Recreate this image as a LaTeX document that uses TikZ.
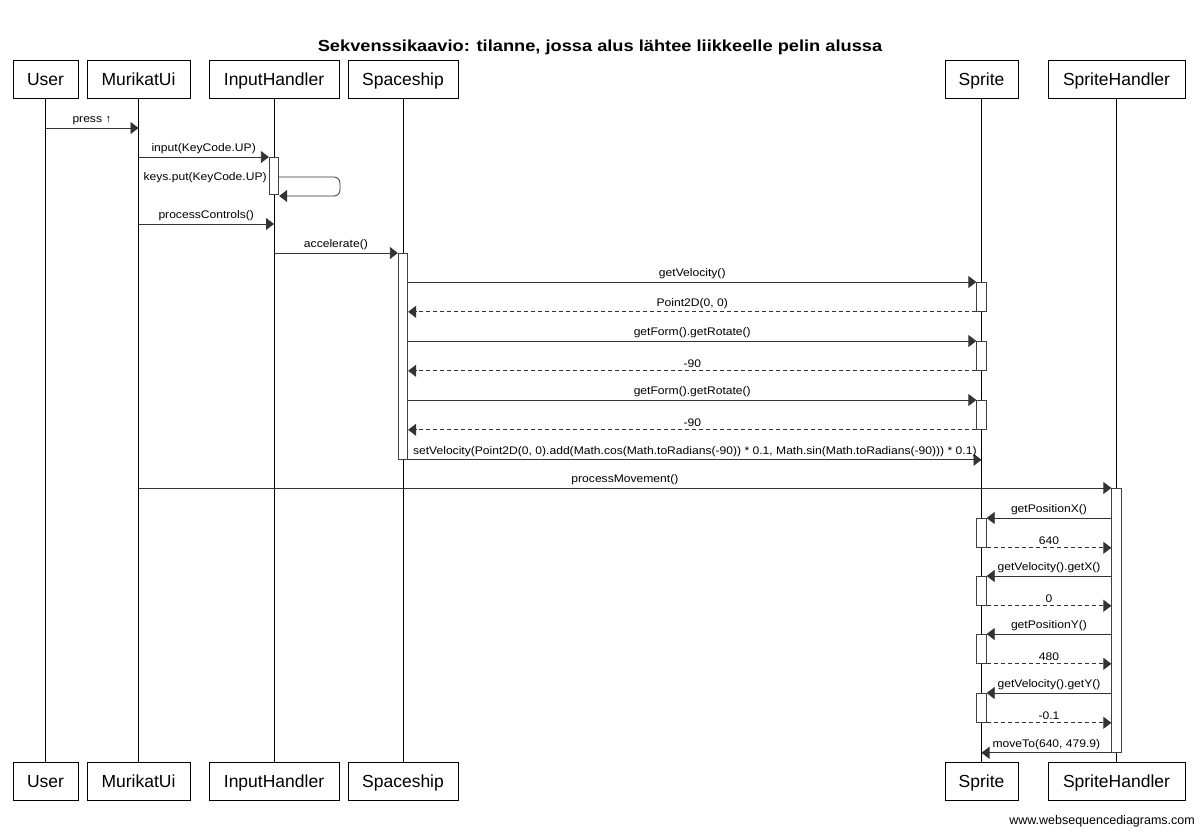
\documentclass[tikz,border=0pt]{standalone}
\usepackage{fontspec}
\setmainfont{Liberation Sans}
\newfontfamily\lblfont[FakeStretch=1.1]{Liberation Sans}
\newfontfamily\ttlfont[FakeStretch=1.14]{Liberation Sans}
\usetikzlibrary{arrows.meta}
\begin{document}
\begin{tikzpicture}[x=1pt,y=-1pt,
  head/.style={draw=black,line width=0.9pt,fill=white,minimum height=38pt,inner sep=0pt,text height=14.5pt,text depth=1.5pt,font=\fontsize{17.5}{20}\selectfont},
  act/.style={draw=black!75,line width=0.8pt,fill=white,minimum width=9.5pt,inner sep=0pt,anchor=north},
  life/.style={draw=black,line width=0.8pt},
  msg/.style={draw=black!80,line width=0.8pt,-{Triangle[length=8pt,width=12pt]}},
  ret/.style={msg,dash pattern=on 4pt off 3pt},
  lbl/.style={font=\lblfont\fontsize{11}{13}\selectfont,inner sep=1pt,above=1.5pt}]
\useasboundingbox (0,0) rectangle (1200,836);
\node[font=\ttlfont\bfseries\fontsize{16}{19}\selectfont] (title) at (600,47) {Sekvenssikaavio: tilanne, jossa alus lähtee liikkeelle pelin alussa};
% heads
\node[head,minimum width=65pt]  (uT)  at (45.5,79) {User};
\node[head,minimum width=103pt] (muT) at (138.5,79) {MurikatUi};
\node[head,minimum width=130pt] (ihT) at (274,79) {InputHandler};
\node[head,minimum width=110pt] (ssT) at (403,79) {Spaceship};
\node[head,minimum width=73pt]  (spT) at (981.5,79) {Sprite};
\node[head,minimum width=137pt] (shT) at (1116.5,79) {SpriteHandler};
\node[head,minimum width=65pt]  (uB)  at (45.5,781) {User};
\node[head,minimum width=103pt] (muB) at (138.5,781) {MurikatUi};
\node[head,minimum width=130pt] (ihB) at (274,781) {InputHandler};
\node[head,minimum width=110pt] (ssB) at (403,781) {Spaceship};
\node[head,minimum width=73pt]  (spB) at (981.5,781) {Sprite};
\node[head,minimum width=137pt] (shB) at (1116.5,781) {SpriteHandler};
% lifelines
\draw[life] (uT) -- (uB);
\draw[life] (muT) -- (muB);
\draw[life] (ihT) -- (ihB);
\draw[life] (ssT) -- (ssB);
\draw[life] (spT) -- (spB);
\draw[life] (shT) -- (shB);
% activations
\node[act,minimum height=37pt]  (aIH) at (ihT |- 0,157) {};
\node[act,minimum height=206pt] (aSS) at (ssT |- 0,253) {};
\node[act,minimum height=29pt]  (aP1) at (spT |- 0,282) {};
\node[act,minimum height=29pt]  (aP2) at (spT |- 0,341) {};
\node[act,minimum height=29pt]  (aP3) at (spT |- 0,400) {};
\node[act,minimum height=264pt] (aSH) at (shT |- 0,488) {};
\node[act,minimum height=29pt]  (aQ1) at (spT |- 0,518) {};
\node[act,minimum height=29pt]  (aQ2) at (spT |- 0,576) {};
\node[act,minimum height=29pt]  (aQ3) at (spT |- 0,634) {};
\node[act,minimum height=29pt]  (aQ4) at (spT |- 0,693) {};
% messages
\draw[msg] (uT |- 0,128) -- (muT |- 0,128) node[lbl,midway] {press ↑};
\draw[msg] (muT |- aIH.north) -- (aIH.north west) node[lbl,midway] {input(KeyCode.UP)};
\coordinate (s1) at (aIH.east |- 0,177);
\coordinate (s2) at (aIH.east |- 0,196);
\draw[msg,rounded corners=6pt] (s1) -- (340,177) -- (340,196) -- (s2);
\node[font=\lblfont\fontsize{11}{13}\selectfont,anchor=east,inner sep=2pt] (kp) at (aIH.west |- 0,178) {keys.put(KeyCode.UP)};
\draw[msg] (muT |- 0,224) -- (ihT |- 0,224) node[lbl,midway] {processControls()};
\draw[msg] (ihT |- aSS.north) -- (aSS.north west) node[lbl,midway] {accelerate()};
\draw[msg] (aSS.east |- aP1.north) -- (aP1.north west) node[lbl,midway] {getVelocity()};
\draw[ret] (aP1.south west) -- (aSS.east |- aP1.south) node[lbl,midway] {Point2D(0, 0)};
\draw[msg] (aSS.east |- aP2.north) -- (aP2.north west) node[lbl,midway] {getForm().getRotate()};
\draw[ret] (aP2.south west) -- (aSS.east |- aP2.south) node[lbl,midway] {-90};
\draw[msg] (aSS.east |- aP3.north) -- (aP3.north west) node[lbl,midway] {getForm().getRotate()};
\draw[ret] (aP3.south west) -- (aSS.east |- aP3.south) node[lbl,midway] {-90};
\draw[msg] (aSS.south east) -- (spT |- aSS.south) node[lbl,midway] {setVelocity(Point2D(0, 0).add(Math.cos(Math.toRadians(-90)) * 0.1, Math.sin(Math.toRadians(-90))) * 0.1)};
\draw[msg] (muT |- aSH.north) -- (aSH.north west) node[lbl,midway] {processMovement()};
\draw[msg] (aSH.west |- aQ1.north) -- (aQ1.north east) node[lbl,midway] {getPositionX()};
\draw[ret] (aQ1.south east) -- (aSH.west |- aQ1.south) node[lbl,midway] {640};
\draw[msg] (aSH.west |- aQ2.north) -- (aQ2.north east) node[lbl,midway] {getVelocity().getX()};
\draw[ret] (aQ2.south east) -- (aSH.west |- aQ2.south) node[lbl,midway] {0};
\draw[msg] (aSH.west |- aQ3.north) -- (aQ3.north east) node[lbl,midway] {getPositionY()};
\draw[ret] (aQ3.south east) -- (aSH.west |- aQ3.south) node[lbl,midway] {480};
\draw[msg] (aSH.west |- aQ4.north) -- (aQ4.north east) node[lbl,midway] {getVelocity().getY()};
\draw[ret] (aQ4.south east) -- (aSH.west |- aQ4.south) node[lbl,midway] {-0.1};
\draw[msg] (aSH.south west) -- (spT |- aSH.south) node[lbl,midway] {moveTo(640, 479.9)};
\node[font=\fontsize{12.5}{14}\selectfont,anchor=east,inner sep=0pt] (foot) at (1195,821) {www.websequencediagrams.com};
\end{tikzpicture}
\end{document}
